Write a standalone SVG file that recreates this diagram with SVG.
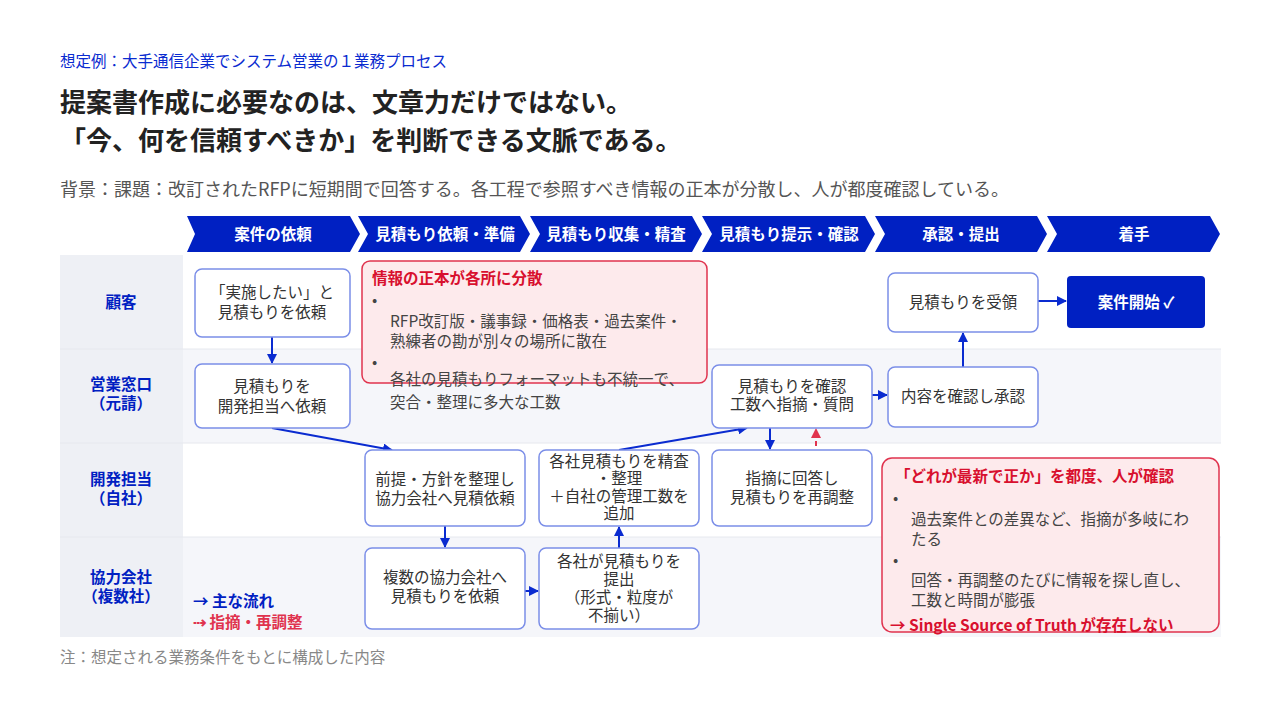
<svg xmlns="http://www.w3.org/2000/svg" width="1280" height="720" viewBox="0 0 1280 720">
<style>
text{font-family:"Noto Sans CJK JP","Noto Sans",sans-serif}
.n{fill:#fff;stroke:#7b8ee8;stroke-width:1.5}
.t{font-size:15.5px;fill:#333;text-anchor:middle}
.lane{font-size:15.5px;font-weight:bold;fill:#0020c2;text-anchor:middle}
.ph{font-size:15.5px;font-weight:bold;fill:#fff;text-anchor:middle}
.c{stroke:#0a2bd0;stroke-width:2;fill:none;marker-end:url(#a)}
.r{stroke:#e0334e;stroke-width:2;fill:none;stroke-dasharray:5 4;marker-end:url(#ar)}
.rb{fill:#fdeaec;stroke:#e0334e;stroke-width:1.5}
.rt{font-size:15.5px;font-weight:bold;fill:#d8102e}
.bt{font-size:15.5px;fill:#444}
</style>
<defs>
<marker id="a" markerWidth="10" markerHeight="10" refX="9" refY="5" orient="auto" markerUnits="userSpaceOnUse"><path d="M0,0L10,5L0,10z" fill="#0a2bd0"/></marker>
<marker id="ar" markerWidth="10" markerHeight="10" refX="9" refY="5" orient="auto" markerUnits="userSpaceOnUse"><path d="M0,0L10,5L0,10z" fill="#e0334e"/></marker>
</defs>
<rect width="1280" height="720" fill="#fff"/>
<text x="60" y="67" font-size="15.5" fill="#0a2bd0">想定例：大手通信企業でシステム営業の１業務プロセス</text>
<text x="60" y="112" font-size="26" font-weight="bold" fill="#222">提案書作成に必要なのは、文章力だけではない。</text>
<text x="60" y="150" font-size="26" font-weight="bold" fill="#222">「今、何を信頼すべきか」を判断できる文脈である。</text>
<text x="60" y="196" font-size="18" fill="#555">背景：課題：改訂されたRFPに短期間で回答する。各工程で参照すべき情報の正本が分散し、人が都度確認している。</text>
<g id="phases" fill="#0020c2">
<path d="M187,216H350L360,234L350,252H187L195,234z"/>
<path d="M358,216H520L530,234L520,252H358L368,234z"/>
<path d="M530,216H692L702,234L692,252H530L540,234z"/>
<path d="M702,216H865L875,234L865,252H702L712,234z"/>
<path d="M875,216H1037L1047,234L1037,252H875L885,234z"/>
<path d="M1047,216H1210L1220,234L1210,252H1047L1057,234z"/>
</g>
<text class="ph" x="273" y="240">案件の依頼</text>
<text class="ph" x="445" y="240">見積もり依頼・準備</text>
<text class="ph" x="616" y="240">見積もり収集・精査</text>
<text class="ph" x="789" y="240">見積もり提示・確認</text>
<text class="ph" x="961" y="240">承認・提出</text>
<text class="ph" x="1134" y="240">着手</text>
<g id="lanes">
<rect x="60" y="255" width="123" height="382" fill="#eef0f5"/>
<rect x="183" y="255" width="1038" height="94" fill="#fff"/>
<rect x="183" y="349" width="1038" height="94" fill="#f5f6fa"/>
<rect x="183" y="443" width="1038" height="94" fill="#fff"/>
<rect x="183" y="537" width="1038" height="100" fill="#f5f6fa"/>
<path d="M60,349H1221M60,443H1221M60,537H1221" stroke="#e6e8ee"/>
<text class="lane" x="121" y="308">顧客</text>
<text class="lane" x="121" y="390">営業窓口</text><text class="lane" x="121" y="409">（元請）</text>
<text class="lane" x="121" y="485">開発担当</text><text class="lane" x="121" y="504">（自社）</text>
<text class="lane" x="121" y="583">協力会社</text><text class="lane" x="121" y="602">（複数社）</text>
</g>
<g id="connectors">
<path class="c" d="M272,337V363"/>
<path class="c" d="M272,428L392,450"/>
<path class="c" d="M445,526V547"/>
<path class="c" d="M525,591H538"/>
<path class="c" d="M619,548V527"/>
<path class="c" d="M619,450L747,428"/>
<path class="c" d="M770,428V449"/>
<path class="r" d="M816,455V429"/>
<path class="c" d="M872,395H887"/>
<path class="c" d="M963,367V333"/>
<path class="c" d="M1038,301H1066"/>
</g>
<g id="nA"><rect class="n" x="195" y="269" width="155" height="68" rx="7"/><text class="t" x="272" y="298">「実施したい」と</text><text class="t" x="272" y="318">見積もりを依頼</text></g>
<g id="nB"><rect class="n" x="195" y="364" width="155" height="64" rx="7"/><text class="t" x="272" y="392">見積もりを</text><text class="t" x="272" y="412">開発担当へ依頼</text></g>
<g id="nC"><rect class="n" x="365" y="450" width="160" height="76" rx="7"/><text class="t" x="445" y="485">前提・方針を整理し</text><text class="t" x="445" y="504">協力会社へ見積依頼</text></g>
<g id="nD"><rect class="n" x="365" y="548" width="160" height="81" rx="7"/><text class="t" x="445" y="583">複数の協力会社へ</text><text class="t" x="445" y="602">見積もりを依頼</text></g>
<g id="nE"><rect class="n" x="539" y="548" width="160" height="81" rx="7"/><text class="t" x="619" y="567">各社が見積もりを</text><text class="t" x="619" y="585">提出</text><text class="t" x="619" y="603">（形式・粒度が</text><text class="t" x="619" y="621">不揃い）</text></g>
<g id="nF"><rect class="n" x="539" y="450" width="160" height="76" rx="7"/><text class="t" x="619" y="467">各社見積もりを精査</text><text class="t" x="619" y="484">・整理</text><text class="t" x="619" y="502">＋自社の管理工数を</text><text class="t" x="619" y="519">追加</text></g>
<g id="nG"><rect class="n" x="712" y="365" width="160" height="63" rx="7"/><text class="t" x="792" y="392">見積もりを確認</text><text class="t" x="792" y="410">工数へ指摘・質問</text></g>
<g id="nH"><rect class="n" x="712" y="450" width="160" height="76" rx="7"/><text class="t" x="792" y="484">指摘に回答し</text><text class="t" x="792" y="503">見積もりを再調整</text></g>
<g id="nI"><rect class="n" x="888" y="367" width="150" height="60" rx="7"/><text class="t" x="963" y="402">内容を確認し承認</text></g>
<g id="nJ"><rect class="n" x="888" y="273" width="150" height="59" rx="7"/><text class="t" x="963" y="308">見積もりを受領</text></g>
<g id="nK"><rect x="1067" y="276" width="138" height="52" rx="4" fill="#0020c2"/><text class="ph" x="1136" y="308">案件開始 ✓</text></g>
<g id="note1"><rect class="rb" x="362" y="261" width="345" height="122" rx="8"/>
<text class="rt" x="372" y="284">情報の正本が各所に分散</text>
<text class="bt" x="372" y="306" font-size="10">•</text>
<text class="bt" x="390" y="327">RFP改訂版・議事録・価格表・過去案件・</text>
<text class="bt" x="390" y="347">熟練者の勘が別々の場所に散在</text>
<text class="bt" x="372" y="368" font-size="10">•</text>
<text class="bt" x="390" y="385">各社の見積もりフォーマットも不統一で、</text>
<text class="bt" x="390" y="408">突合・整理に多大な工数</text></g>
<g id="note2"><rect class="rb" x="882" y="458" width="337" height="174" rx="10"/>
<text class="rt" x="895" y="482">「どれが最新で正か」を都度、人が確認</text>
<text class="bt" x="893" y="504" font-size="10">•</text>
<text class="bt" x="911" y="525">過去案件との差異など、指摘が多岐にわ</text>
<text class="bt" x="911" y="545">たる</text>
<text class="bt" x="893" y="566" font-size="10">•</text>
<text class="bt" x="911" y="586">回答・再調整のたびに情報を探し直し、</text>
<text class="bt" x="911" y="606">工数と時間が膨張</text>
<text class="rt" x="890" y="631">→ Single Source of Truth が存在しない</text></g>
<g id="legend"><text x="193" y="607" font-size="15.5" font-weight="bold" fill="#0020c2">→ 主な流れ</text><text x="193" y="628" font-size="15.5" font-weight="bold" fill="#e0334e">⇢ 指摘・再調整</text></g>
<text x="60" y="663" font-size="15.5" fill="#888">注：想定される業務条件をもとに構成した内容</text>
</svg>
